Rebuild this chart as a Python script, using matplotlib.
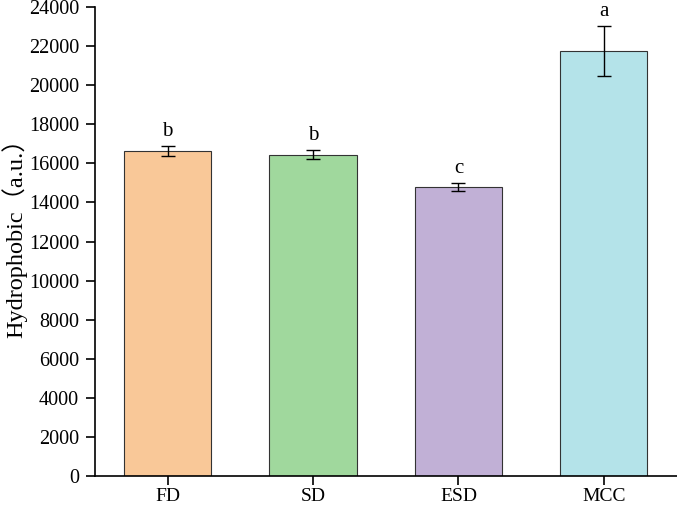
import matplotlib
matplotlib.use('Agg')
import matplotlib.pyplot as plt
import numpy as np

groups = ['FD', 'SD', 'ESD', 'MCC']
means = [16630, 16450, 14790, 21750]
errors = [260, 250, 210, 1280]
letters = ['b', 'b', 'c', 'a']
colors = ['#F9C898', '#A0D89D', '#C1B0D6', '#B4E3E9']

plt.rcParams['font.family'] = ['Liberation Serif', 'Noto Sans CJK SC']

fig = plt.figure(figsize=(6.77, 5.07), dpi=100)
ax = fig.add_axes([0.1403, 0.0611, 0.859, 0.925])

x = np.arange(len(groups))
ax.bar(x, means, width=0.6, color=colors, edgecolor='#333333', linewidth=0.8,
       yerr=errors, error_kw=dict(ecolor='black', elinewidth=1, capsize=5, capthick=1))
for xi, m, e, t in zip(x, means, errors, letters):
    ax.text(xi, m + e + 250, t, ha='center', va='bottom', fontsize=15)

ax.set_xlim(-0.5, 3.5)
ax.set_ylim(0, 24000)
ax.set_yticks(np.arange(0, 24001, 2000))
ax.set_xticks(x)
ax.set_xticklabels(groups)
ax.tick_params(labelsize=14.5, width=1.2, length=6.5, pad=5, direction='out')
ax.tick_params(axis='x', labelsize=14, pad=2)
ax.set_ylabel('Hydrophobic（a.u.）', fontsize=17.5)
ax.yaxis.set_label_coords(-0.117, 0.52)
for s in ['top', 'right']:
    ax.spines[s].set_visible(False)
for s in ['left', 'bottom']:
    ax.spines[s].set_linewidth(1.2)

fig.savefig('out.png', dpi=100)
